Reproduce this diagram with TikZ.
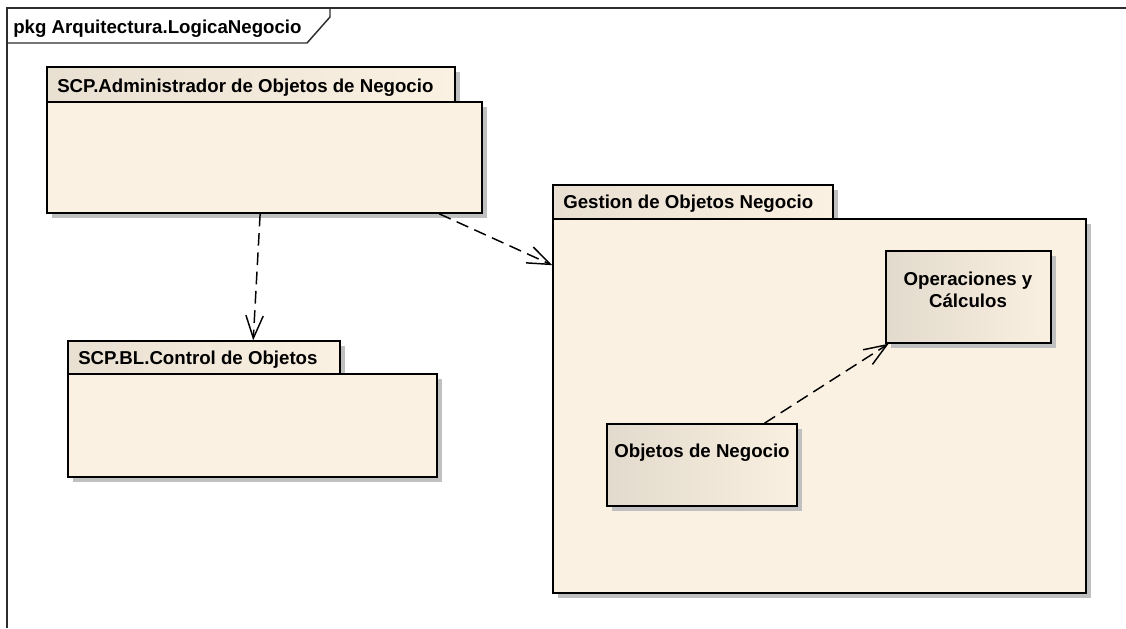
\documentclass[tikz,border=0pt]{standalone}
\usepackage{fontspec}
\setmainfont{Liberation Sans}
\usetikzlibrary{arrows.meta,calc,fit,shadows}

\definecolor{cream}{RGB}{251,241,227}
\definecolor{creamdark}{RGB}{226,218,204}
\definecolor{shadowgray}{RGB}{192,192,192}
\definecolor{framegray}{RGB}{45,45,45}

\begin{document}
\begin{tikzpicture}[x=0.75pt,y=-0.75pt,
  font=\fontsize{14}{16.8}\selectfont\bfseries,
  box/.style={draw=black, line width=1.1pt, inner sep=0pt, fill=cream,
    general shadow={fill=shadowgray, shadow xshift=3.75pt, shadow yshift=-3.75pt}},
  tabbox/.style={box, left color=creamdark!75!cream, right color=cream},
  classbox/.style={box, left color=creamdark, right color=cream!95!creamdark},
  label/.style={inner sep=0pt, anchor=base west},
  depend/.style={draw=black, line width=1.1pt, dash pattern=on 9.5pt off 5pt,
    -{Straight Barb[length=17pt,width=13pt,line width=1.1pt]}}
]
\useasboundingbox (0,0) rectangle (1126,628);

% diagram frame and its name tab
\draw[framegray, line width=1.1pt] (7,628) -- (7,8) -- (1126,8);
\draw[framegray, line width=1.1pt] (7,43) -- (307,43) -- (330,17) -- (330,8);
\node[label] (framelabel) at (13,33) {pkg Arquitectura.LogicaNegocio};

% package: SCP.Administrador de Objetos de Negocio
\node[tabbox, fit={(47,67) (455,102)}] (admintab) {};
\node[box, fit={(47,102) (482,213)}] (adminbody) {};
\node[label] (adminlabel) at (57,92) {SCP.Administrador de Objetos de Negocio};

% package: SCP.BL.Control de Objetos
\node[tabbox, fit={(68,341) (340,374)}] (ctrltab) {};
\node[box, fit={(68,374) (437,477)}] (ctrlbody) {};
\node[label] (ctrllabel) at (78,364) {SCP.BL.Control de Objetos};

% package: Gestion de Objetos Negocio
\node[tabbox, fit={(553,185) (833,219)}] (gestab) {};
\node[box, fit={(553,219) (1086,593)}] (gesbody) {};
\node[label] (geslabel) at (563,208) {Gestion de Objetos Negocio};

% nested packages
\node[classbox, fit={(886,251) (1051,343)}] (ops) {};
\node[inner sep=0pt, anchor=base] (opslabel1) at (968,285) {Operaciones y};
\node[inner sep=0pt, anchor=base] (opslabel2) at (968,307) {Cálculos};

\node[classbox, fit={(607,424) (797,506)}] (objs) {};
\node[inner sep=0pt, anchor=base] (objslabel) at (702,457) {Objetos de Negocio};

% dependencies
\draw[depend] ($(adminbody.south west)!0.49!(adminbody.south east)$)
  -- ($(ctrltab.north west)!0.68!(ctrltab.north east)$);
\draw[depend] ($(adminbody.south west)!0.90!(adminbody.south east)$)
  -- ($(gesbody.north west)!0.125!(gesbody.south west)$);
\draw[depend] ($(objs.north west)!0.826!(objs.north east)$)
  -- ($(ops.south west)!0.02!(ops.south east)$);
\end{tikzpicture}
\end{document}
